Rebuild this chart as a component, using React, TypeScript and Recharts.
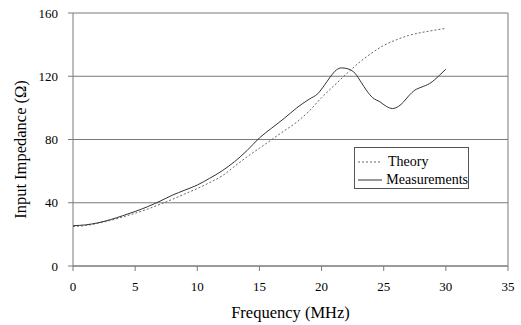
import { LineChart, Line, XAxis, YAxis, CartesianGrid, ReferenceLine, Legend } from "recharts";

const theoryFreq = [0, 1, 2, 3, 4, 5, 6, 7, 8, 9, 10, 11, 12, 13, 14, 15, 16, 17, 18, 19, 20, 21, 22, 23, 24, 25, 26, 27, 28, 29, 30];
const theoryImpedance = [25, 25.6, 27, 28.8, 31, 33.4, 36, 39, 42.2, 45.6, 49, 52.8, 57, 63, 69, 74.5, 80, 85.5, 91, 98, 106.5, 114, 121.5, 128.5, 134.5, 139.5, 143, 145.8, 147.6, 149, 150.3];

const measFreq = [0, 1, 2, 3, 4, 5, 6, 7, 8, 9, 10, 11, 12, 13, 14, 15, 16, 17, 18, 19, 19.7, 20.2, 20.7, 21.2, 21.6, 22.2, 22.7, 23.2, 23.6, 24.1, 24.7, 25.2, 25.7, 26.2, 26.6, 27, 27.5, 28, 28.7, 29.5, 30];
const measImpedance = [25.5, 26, 27.3, 29.3, 31.8, 34.5, 37.5, 41, 44.8, 48, 51.2, 55.5, 60.2, 66, 73, 81, 87.3, 93.4, 100, 105.5, 109, 114, 119.6, 124, 125.3, 124.5, 121.8, 116, 111.2, 106.5, 103.8, 101, 99.6, 101, 103.8, 107.5, 111.2, 113, 115.4, 120.7, 124.5];

const xTicks = [0, 5, 10, 15, 20, 25, 30, 35];
const yTicks = [0, 40, 80, 120, 160];

const theoryData = theoryFreq.map((f, i) => ({ freq: f, value: theoryImpedance[i] }));
const measData = measFreq.map((f, i) => ({ freq: f, value: measImpedance[i] }));

const font = "Liberation Serif";
const axisColor = "#7a7a7a";

const LegendBox = () => (
  <div
    style={{
      border: "1px solid #555",
      background: "#fff",
      width: 113,
      height: 40,
      fontFamily: font,
      fontSize: 14,
      color: "#000",
      boxSizing: "content-box",
    }}
  >
    {[
      { name: "Theory", dash: "2 2", color: "#666" },
      { name: "Measurements", dash: undefined, color: "#333" },
    ].map((item, i) => (
      <div key={item.name} style={{ display: "flex", alignItems: "center", height: 18, marginTop: i === 0 ? 5 : 0 }}>
        <svg width={30} height={10} style={{ marginLeft: 3 }}>
          <line x1={0} y1={5} x2={24} y2={5} stroke={item.color} strokeDasharray={item.dash} strokeWidth={1} />
        </svg>
        <span>{item.name}</span>
      </div>
    ))}
  </div>
);

export default function App() {
  return (
    <div style={{ position: "absolute", left: 0, top: 0, fontFamily: font }}>
      <LineChart width={521} height={325} margin={{ top: 13, right: 13, left: 0, bottom: 0 }} style={{ fontFamily: font }}>
        <CartesianGrid horizontal vertical={false} stroke={axisColor} strokeWidth={1} />
        <XAxis
          type="number"
          dataKey="freq"
          domain={[0, 35]}
          ticks={xTicks}
          allowDuplicatedCategory={false}
          height={59}
          stroke={axisColor}
          tickSize={5}
          tickMargin={11}
          tick={{ fill: "#000", fontSize: 13, fontFamily: font }}
          label={{ value: "Frequency (MHz)", position: "insideBottom", offset: 7, fill: "#000", fontSize: 16.5, fontFamily: font }}
        />
        <YAxis
          type="number"
          domain={[0, 160]}
          ticks={yTicks}
          width={73}
          stroke={axisColor}
          tickSize={5}
          tickMargin={10}
          tick={{ fill: "#000", fontSize: 13, fontFamily: font }}
          label={{
            value: "Input Impedance (Ω)",
            angle: -90,
            position: "insideLeft",
            offset: 20,
            dy: 10,
            fill: "#000",
            fontSize: 16.5,
            fontFamily: font,
            style: { textAnchor: "middle", fontFamily: font },
          }}
        />
        <ReferenceLine x={35} stroke={axisColor} />
        <Legend
          layout="horizontal"
          verticalAlign="middle"
          align="center"
          content={() => <LegendBox />}
          wrapperStyle={{ left: 354, top: 147, width: 115, height: 42 }}
        />
        <Line
          data={theoryData}
          dataKey="value"
          type="monotone"
          stroke="#666"
          strokeWidth={1}
          strokeDasharray="2 2"
          dot={false}
          isAnimationActive={false}
        />
        <Line
          data={measData}
          dataKey="value"
          type="monotone"
          stroke="#333"
          strokeWidth={1}
          dot={false}
          isAnimationActive={false}
        />
      </LineChart>
    </div>
  );
}
